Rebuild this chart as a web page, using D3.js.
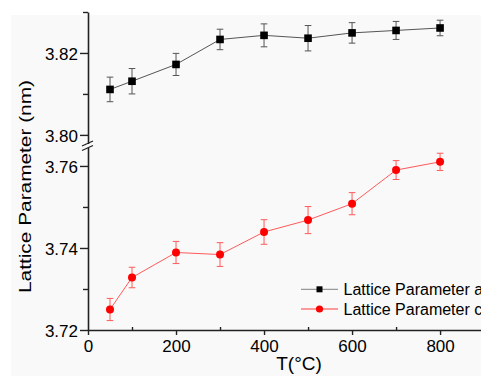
<!DOCTYPE html>
<html>
<head>
<meta charset="utf-8">
<script src="https://cdn.jsdelivr.net/npm/d3@7"></script>
<style>
  html, body { margin: 0; padding: 0; background: #fff; }
  svg { display: block; font-family: "Liberation Sans", Arial, sans-serif; }
</style>
</head>
<body>
<svg id="chart" width="481" height="376"></svg>
<script>
// ---- data ----
const temperatures = [50, 100, 200, 300, 400, 500, 600, 700, 800];
const latticeA = [3.8111, 3.8131, 3.8172, 3.8233, 3.8243, 3.8236, 3.8249, 3.8255, 3.8261];
const latticeAErr = [0.0030, 0.0031, 0.0027, 0.0025, 0.0028, 0.0031, 0.0025, 0.0022, 0.0019];
const latticeC = [3.7250, 3.7328, 3.7389, 3.7384, 3.7439, 3.7468, 3.7508, 3.7590, 3.7610];
const latticeCErr = [0.0027, 0.0025, 0.0027, 0.0029, 0.0030, 0.0033, 0.0027, 0.0023, 0.0021];
const xMajorTicks = [0, 200, 400, 600, 800];
const xMinorTicks = [100, 300, 500, 700];
const yUpperMajor = [3.80, 3.82];
const yUpperMinor = [3.81, 3.83];
const yLowerMajor = [3.72, 3.74, 3.76];
const yLowerMinor = [3.73, 3.75];
const seriesNames = ["Lattice Parameter a", "Lattice Parameter c"];
const xTitle = "T(°C)";
const yTitle = "Lattice Parameter (nm)";

// ---- layout ----
const svg = d3.select("#chart");
const axisX = 88, axisY = 330;

svg.append("rect").attr("x", 11).attr("y", 15).attr("width", 470).attr("height", 361).attr("fill", "#f9f9f9");

const x = d3.scaleLinear().domain([0, 893]).range([axisX, 481]);
const yUp = d3.scaleLinear().domain([3.7979, 3.83]).range([143.5, 12]);
const yLo = d3.scaleLinear().domain([3.72, 3.7645]).range([axisY, 147.5]);

const fmt = d3.format(".2f");

function styleAxis(g) {
  g.selectAll("path.domain").attr("stroke", "#222").attr("stroke-width", 1.6);
  g.selectAll(".tick line").attr("stroke", "#222").attr("stroke-width", 1.4);
  g.selectAll(".tick text").attr("fill", "#000").style("font-size", "17px");
}

// y upper axis
const gUp = svg.append("g").attr("transform", `translate(${axisX},0)`)
  .call(d3.axisLeft(yUp).tickValues(yUpperMajor).tickFormat(fmt).tickSize(8).tickSizeOuter(0).tickPadding(2));
styleAxis(gUp);
gUp.selectAll(".tick text").attr("dy", "0.36em");
const gUpMin = svg.append("g").attr("transform", `translate(${axisX},0)`)
  .call(d3.axisLeft(yUp).tickValues(yUpperMinor).tickFormat("").tickSize(5).tickSizeOuter(0));
styleAxis(gUpMin);
gUpMin.select("path.domain").remove();

// y lower axis
const gLo = svg.append("g").attr("transform", `translate(${axisX},0)`)
  .call(d3.axisLeft(yLo).tickValues(yLowerMajor).tickFormat(fmt).tickSize(8).tickSizeOuter(0).tickPadding(2));
styleAxis(gLo);
gLo.selectAll(".tick text").attr("dy", "0.36em");
const gLoMin = svg.append("g").attr("transform", `translate(${axisX},0)`)
  .call(d3.axisLeft(yLo).tickValues(yLowerMinor).tickFormat("").tickSize(5).tickSizeOuter(0));
styleAxis(gLoMin);
gLoMin.select("path.domain").remove();

// axis break marks
const brk = svg.append("g").attr("stroke", "#222").attr("stroke-width", 1.3);
brk.append("line").attr("x1", axisX - 6).attr("y1", 146).attr("x2", axisX + 5).attr("y2", 141);
brk.append("line").attr("x1", axisX - 6).attr("y1", 150.5).attr("x2", axisX + 5).attr("y2", 145.5);

// x axis
const gX = svg.append("g").attr("transform", `translate(0,${axisY})`)
  .call(d3.axisBottom(x).tickValues(xMajorTicks).tickFormat(d3.format("d")).tickSize(5).tickSizeOuter(0).tickPadding(5));
styleAxis(gX);
const gXMin = svg.append("g").attr("transform", `translate(0,${axisY})`)
  .call(d3.axisTop(x).tickValues(xMinorTicks).tickFormat("").tickSize(3).tickSizeOuter(0));
styleAxis(gXMin);
gXMin.select("path.domain").remove();

// titles
svg.append("text").attr("x", 299).attr("y", 370).attr("text-anchor", "middle")
  .style("font-size", "19px").attr("fill", "#000").text(xTitle);
svg.append("text").attr("transform", "translate(31,186.5) rotate(-90)")
  .attr("text-anchor", "middle").style("font-size", "16.5px").attr("fill", "#000")
  .attr("textLength", 213).attr("lengthAdjust", "spacingAndGlyphs").text(yTitle);

// series drawing
function drawSeries(vals, errs, yScale, lineColor, errColor, markerColor, shape) {
  const g = svg.append("g");
  const pts = temperatures.map((t, i) => ({ t, v: vals[i], e: errs[i] }));
  g.append("path").datum(pts)
    .attr("fill", "none").attr("stroke", lineColor).attr("stroke-width", 1)
    .attr("d", d3.line().x(d => x(d.t)).y(d => yScale(d.v)));
  const eb = g.append("g").attr("stroke", errColor).attr("stroke-width", 1);
  pts.forEach(d => {
    const cx = x(d.t), y1 = yScale(d.v + d.e), y2 = yScale(d.v - d.e);
    eb.append("line").attr("x1", cx).attr("x2", cx).attr("y1", y1).attr("y2", y2);
    eb.append("line").attr("x1", cx - 3.3).attr("x2", cx + 3.3).attr("y1", y1).attr("y2", y1);
    eb.append("line").attr("x1", cx - 3.3).attr("x2", cx + 3.3).attr("y1", y2).attr("y2", y2);
  });
  if (shape === "square") {
    g.selectAll("rect.m").data(pts).enter().append("rect")
      .attr("x", d => x(d.t) - 3.8).attr("y", d => yScale(d.v) - 3.8)
      .attr("width", 7.6).attr("height", 7.6).attr("fill", markerColor);
  } else {
    g.selectAll("circle.m").data(pts).enter().append("circle")
      .attr("cx", d => x(d.t)).attr("cy", d => yScale(d.v)).attr("r", 4).attr("fill", markerColor);
  }
}
drawSeries(latticeA, latticeAErr, yUp, "#555", "#555", "#000", "square");
drawSeries(latticeC, latticeCErr, yLo, "#ff5a5a", "#ff5a5a", "#ff0000", "circle");

// legend
const legendRows = [
  { name: seriesNames[0], line: "#999", fill: "#000", shape: "square", y: 289.3 },
  { name: seriesNames[1], line: "#ff3c3c", fill: "#ff0000", shape: "circle", y: 309 }
];
legendRows.forEach(r => {
  const g = svg.append("g");
  g.append("line").attr("x1", 301).attr("x2", 338).attr("y1", r.y).attr("y2", r.y)
    .attr("stroke", r.line).attr("stroke-width", 1.2);
  if (r.shape === "square") {
    g.append("rect").attr("x", 316.5).attr("y", r.y - 3).attr("width", 6).attr("height", 6).attr("fill", r.fill);
  } else {
    g.append("circle").attr("cx", 319.5).attr("cy", r.y).attr("r", 3.6).attr("fill", r.fill);
  }
  g.append("text").attr("x", 343.5).attr("y", r.y).attr("dy", "0.36em")
    .style("font-size", "16px").attr("fill", "#000").text(r.name);
});
</script>
</body>
</html>
